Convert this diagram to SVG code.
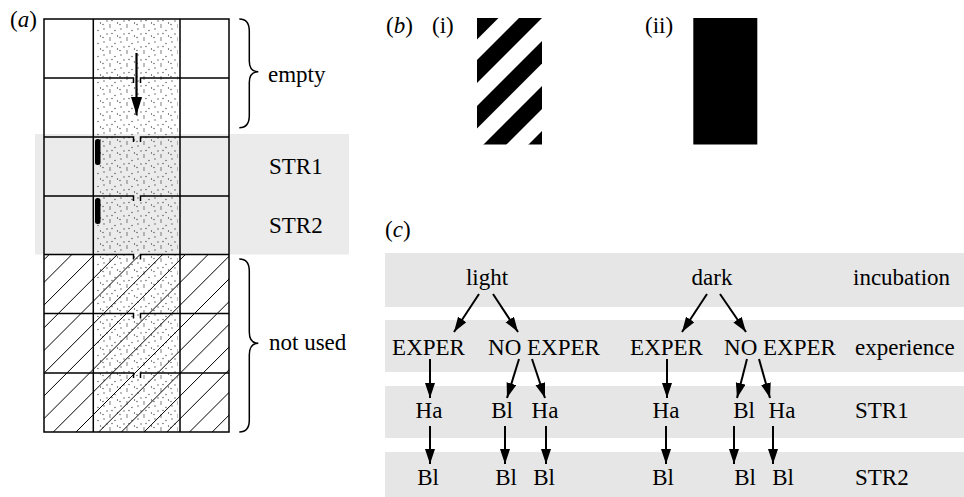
<svg xmlns="http://www.w3.org/2000/svg" width="964" height="497" viewBox="0 0 964 497">
<style>
text{font-family:"Liberation Serif","Times New Roman",serif;font-size:23px;fill:#000}
.m{text-anchor:middle}
.grid{fill:none;stroke:#000;stroke-width:1.5}
.hatch{fill:none;stroke:#000;stroke-width:1}
.conn{stroke:#000;stroke-width:2;fill:none;marker-end:url(#ah)}
.band{fill:#e6e6e6}
.brace{fill:none;stroke:#000;stroke-width:1.5}
</style>
<defs>
<marker id="ah" markerUnits="userSpaceOnUse" markerWidth="16" markerHeight="11" refX="15" refY="5" orient="auto">
<path d="M0,0 L15,5 L0,10 z" fill="#000"/>
</marker>
<marker id="ahA" markerUnits="userSpaceOnUse" markerWidth="19" markerHeight="12" refX="18" refY="5.5" orient="auto">
<path d="M0,0 L18,5.5 L0,11 z" fill="#000"/>
</marker>
<pattern id="dots" width="17" height="13" patternUnits="userSpaceOnUse">
<circle cx="2" cy="3" r="0.65" fill="#444"/>
<circle cx="8" cy="1" r="0.65" fill="#444"/>
<circle cx="13" cy="4.5" r="0.65" fill="#444"/>
<circle cx="15.5" cy="10" r="0.65" fill="#444"/>
<circle cx="5" cy="8" r="0.65" fill="#444"/>
<circle cx="10" cy="7.5" r="0.65" fill="#444"/>
<circle cx="1" cy="11.5" r="0.65" fill="#444"/>
<circle cx="8" cy="12" r="0.65" fill="#444"/>
</pattern>
<clipPath id="hclip"><rect x="44" y="254.5" width="185" height="177.5"/></clipPath>
<clipPath id="sclip"><rect x="477" y="18" width="65" height="126.5"/></clipPath>
</defs>

<!-- panel (a) -->
<g id="panel-a">
<rect x="35" y="134" width="314" height="120.5" fill="#ebebeb"/>
<rect x="97" y="20" width="81" height="411" fill="url(#dots)"/>
<path class="hatch" clip-path="url(#hclip)" d="M-128.3,432L49.7,254M-105.6,432L72.4,254M-82.9,432L95.1,254M-60.2,432L117.8,254M-37.5,432L140.5,254M-14.8,432L163.2,254M7.9,432L185.9,254M30.6,432L208.6,254M53.3,432L231.3,254M76,432L254,254M98.7,432L276.7,254M121.4,432L299.4,254M144.1,432L322.1,254M166.8,432L344.8,254M189.5,432L367.5,254M212.2,432L390.2,254"/>
<rect class="grid" x="44" y="19" width="185" height="413"/>
<path class="grid" d="M93.3,19V432M180,19V432"/>
<path class="grid" d="M44,78H133.5V83M140.5,83V78H229M44,137H133.5V142M140.5,142V137H229M44,196H133.5V201M140.5,201V196H229M44,254.5H133.5V259.5M140.5,259.5V254.5H229M44,313.5H133.5V318.5M140.5,318.5V313.5H229M44,373H133.5V378M140.5,378V373H229"/>
<rect x="95" y="139" width="5.5" height="26" rx="2.5" fill="#000"/>
<rect x="95" y="198" width="5.5" height="26" rx="2.5" fill="#000"/>
<line x1="136.5" y1="53" x2="136.5" y2="115" stroke="#000" stroke-width="2.2" marker-end="url(#ahA)"/>
<path class="brace" d="M239.3,19Q249.3,19 249.3,31V61Q249.3,71.7 258.3,71.7Q249.3,71.7 249.3,82.5V115.5Q249.3,127.7 239.3,127.7"/>
<path class="brace" d="M239.3,259Q249.3,259 249.3,271V332Q249.3,343.3 258.3,343.3Q249.3,343.3 249.3,355V420Q249.3,432 239.3,432"/>
<text x="10" y="27">(<tspan font-style="italic">a</tspan>)</text>
<text x="268" y="82">empty</text>
<text x="269" y="174">STR1</text>
<text x="269" y="233">STR2</text>
<text x="269" y="350">not used</text>
</g>

<!-- panel (b) -->
<g id="panel-b">
<text x="386" y="33">(<tspan font-style="italic">b</tspan>)</text>
<text x="432" y="33">(i)</text>
<g clip-path="url(#sclip)" fill="#000">
<polygon points="483,10 506.5,10 366.5,150 343,150"/>
<polygon points="527,10 550,10 410,150 387,150"/>
<polygon points="573,10 595.5,10 455.5,150 433,150"/>
<polygon points="618,10 641,10 501,150 478,150"/>
<polygon points="663,10 685,10 545,150 523,150"/>
</g>
<text x="645" y="33">(ii)</text>
<rect x="693.3" y="18" width="64" height="126.5" fill="#000"/>
</g>

<!-- panel (c) -->
<g id="panel-c">
<text x="385" y="237">(<tspan font-style="italic">c</tspan>)</text>
<rect class="band" x="385" y="253" width="579" height="54"/>
<rect class="band" x="385" y="320" width="579" height="52"/>
<rect class="band" x="385" y="386" width="579" height="52"/>
<rect class="band" x="385" y="452" width="579" height="45"/>
<text x="853" y="285">incubation</text>
<text x="855" y="355">experience</text>
<text x="855" y="418">STR1</text>
<text x="855" y="485">STR2</text>
</g>

<g id="n-light"><text class="m" x="487" y="285">light</text></g>
<g id="n-dark"><text class="m" x="712" y="285">dark</text></g>
<g id="n-exper1"><text class="m" x="428.5" y="355">EXPER</text></g>
<g id="n-noexper1"><text class="m" x="544" y="355">NO EXPER</text></g>
<g id="n-exper2"><text class="m" x="666.5" y="355">EXPER</text></g>
<g id="n-noexper2"><text class="m" x="780" y="355">NO EXPER</text></g>
<g id="n-s1-1"><text class="m" x="429" y="418">Ha</text></g>
<g id="n-s1-2"><text class="m" x="502" y="418">Bl</text></g>
<g id="n-s1-3"><text class="m" x="545" y="418">Ha</text></g>
<g id="n-s1-4"><text class="m" x="666" y="418">Ha</text></g>
<g id="n-s1-5"><text class="m" x="744" y="418">Bl</text></g>
<g id="n-s1-6"><text class="m" x="782" y="418">Ha</text></g>
<g id="n-s2-1"><text class="m" x="428" y="485">Bl</text></g>
<g id="n-s2-2"><text class="m" x="506" y="485">Bl</text></g>
<g id="n-s2-3"><text class="m" x="544" y="485">Bl</text></g>
<g id="n-s2-4"><text class="m" x="663" y="485">Bl</text></g>
<g id="n-s2-5"><text class="m" x="745" y="485">Bl</text></g>
<g id="n-s2-6"><text class="m" x="783" y="485">Bl</text></g>

<g id="connectors">
<line class="conn" x1="479" y1="294" x2="454" y2="332"/>
<line class="conn" x1="493" y1="294" x2="518" y2="332"/>
<line class="conn" x1="707" y1="294" x2="682" y2="332"/>
<line class="conn" x1="720" y1="294" x2="746" y2="332"/>
<line class="conn" x1="430" y1="359" x2="430" y2="398"/>
<line class="conn" x1="519" y1="359" x2="507" y2="398"/>
<line class="conn" x1="532" y1="359" x2="545" y2="398"/>
<line class="conn" x1="667" y1="359" x2="667" y2="398"/>
<line class="conn" x1="747" y1="359" x2="737" y2="398"/>
<line class="conn" x1="759" y1="359" x2="770" y2="398"/>
<line class="conn" x1="430" y1="426" x2="430" y2="464"/>
<line class="conn" x1="505" y1="426" x2="505" y2="464"/>
<line class="conn" x1="546" y1="426" x2="546" y2="464"/>
<line class="conn" x1="666" y1="426" x2="666" y2="464"/>
<line class="conn" x1="734" y1="426" x2="734" y2="464"/>
<line class="conn" x1="773" y1="426" x2="773" y2="464"/>
</g>
</svg>
